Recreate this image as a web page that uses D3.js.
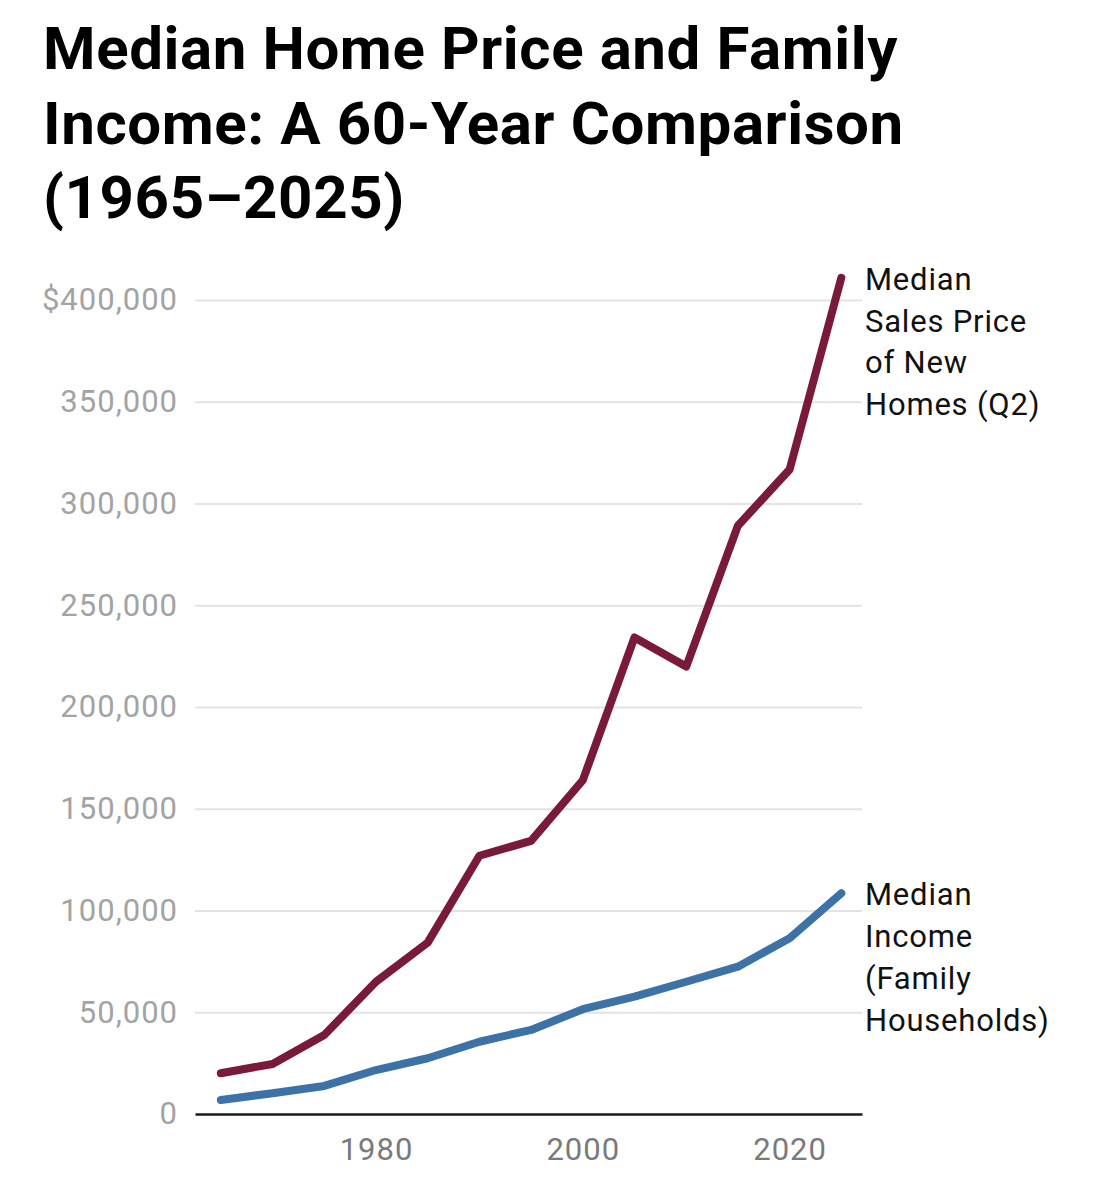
<!DOCTYPE html>
<html>
<head>
<meta charset="utf-8">
<script src="https://cdn.jsdelivr.net/npm/d3@7"></script>
<style>
  html, body { margin: 0; padding: 0; background: #fff; }
  text { font-family: Roboto, "Noto Sans", sans-serif; }
</style>
</head>
<body>
<div id="chart"></div>
<script>
// données (tous les 5 ans)
const years = [1965, 1970, 1975, 1980, 1985, 1990, 1995, 2000, 2005, 2010, 2015, 2020, 2025];
const home_price = [20000, 24600, 38800, 65000, 84200, 126900, 134200, 164000, 234200, 219900, 289100, 316700, 410900];
const family_income = [6900, 10200, 13800, 21600, 27400, 35500, 41300, 51500, 57700, 65000, 72400, 86400, 108500];
const y_ticks = [0, 50000, 100000, 150000, 200000, 250000, 300000, 350000, 400000];
const x_ticks = [1980, 2000, 2020];
const title_lines = ["Median Home Price and Family", "Income: A 60-Year Comparison", "(1965–2025)"];
const price_label = ["Median", "Sales Price", "of New", "Homes (Q2)"];
const income_label = ["Median", "Income", "(Family", "Households)"];

const width = 1095;
const height = 1200;
const margin = {top: 300, right: 233, bottom: 86, left: 195};

const red = "#7a1a3a";
const blue = "#3d72a6";

const svg = d3.create("svg")
    .attr("width", width)
    .attr("height", height)
    .attr("viewBox", [0, 0, width, height]);

// titre
svg.append("g")
  .selectAll("text")
  .data(title_lines)
  .join("text")
    .attr("x", 43)
    .attr("y", (d, i) => 69 + i * 74.5)
    .attr("font-size", 60)
    .attr("letter-spacing", 0.6)
    .attr("font-weight", 700)
    .attr("fill", "#000")
    .text(d => d);

const x = d3.scaleLinear()
    .domain([1962.5, 2027])
    .range([margin.left, width - margin.right]);

const y = d3.scaleLinear()
    .domain([0, 400000])
    .range([height - margin.bottom, margin.top]);

// axe y avec lignes de grille
const yAxis = svg.append("g")
    .attr("transform", `translate(${margin.left},0)`)
    .call(d3.axisLeft(y)
      .tickValues(y_ticks)
      .tickSize(-(width - margin.right - margin.left))
      .tickPadding(17)
      .tickFormat(d => d === 400000 ? "$" + d3.format(",")(d) : d3.format(",")(d)));

yAxis.select(".domain").remove();
yAxis.selectAll(".tick line")
    .attr("stroke", "#e3e3e3")
    .attr("stroke-width", 2);
yAxis.selectAll(".tick text")
    .attr("font-size", 31)
    .attr("letter-spacing", 1)
    .attr("fill", "#a3a3a3")
    .attr("font-family", "Roboto, sans-serif");
yAxis.selectAll(".tick").filter(d => d === 0).select("line").remove();

// axe x
const xAxis = svg.append("g")
    .attr("transform", `translate(0,${y(0)})`)
    .call(d3.axisBottom(x)
      .tickValues(x_ticks)
      .tickSize(0)
      .tickPadding(24)
      .tickFormat(d3.format("d")));

xAxis.select(".domain")
    .attr("stroke", "#1a1a1a")
    .attr("stroke-width", 2.5);
xAxis.selectAll(".tick text")
    .attr("font-size", 31)
    .attr("letter-spacing", 1)
    .attr("fill", "#7a7a7a")
    .attr("font-family", "Roboto, sans-serif");

// lignes
const line = d3.line()
    .x(d => x(d[0]))
    .y(d => y(d[1]));

const series = [
  {values: home_price, color: red, label: price_label},
  {values: family_income, color: blue, label: income_label}
];

svg.append("g")
  .selectAll("path")
  .data(series)
  .join("path")
    .attr("fill", "none")
    .attr("stroke", d => d.color)
    .attr("stroke-width", 8)
    .attr("stroke-linejoin", "round")
    .attr("stroke-linecap", "round")
    .attr("d", d => line(years.map((yr, i) => [yr, d.values[i]])));

// étiquettes à droite
const last = years.length - 1;
series.forEach(s => {
  const y0 = y(s.values[last]);
  svg.append("g")
    .selectAll("text")
    .data(s.label)
    .join("text")
      .attr("x", 865)
      .attr("y", (d, i) => y0 + 12 + i * 41.8)
      .attr("font-size", 31)
      .attr("letter-spacing", 0.8)
      .attr("fill", "#111")
      .text(d => d);
});

d3.select("#chart").node().append(svg.node());
</script>
</body>
</html>
